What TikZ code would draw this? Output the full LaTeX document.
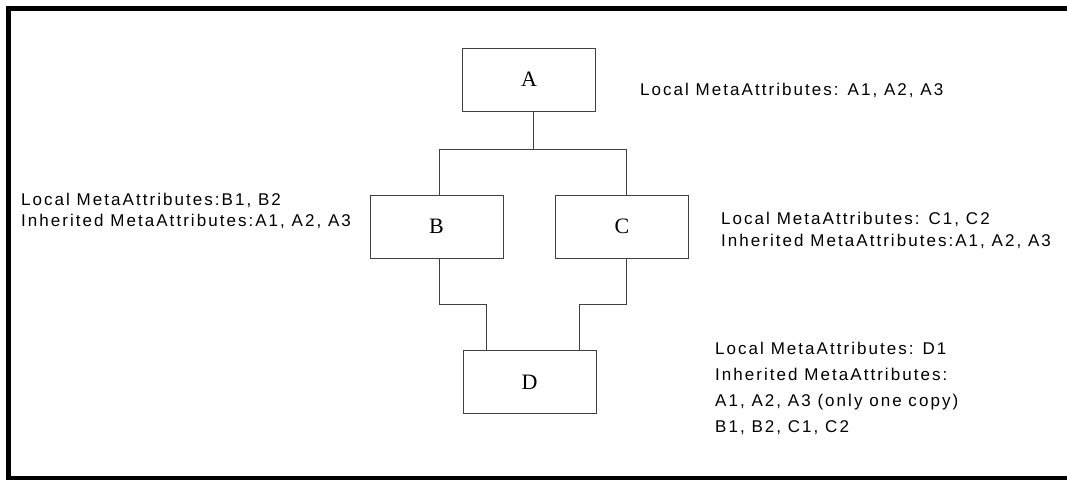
\documentclass[tikz,border=0pt]{standalone}
\usepackage{fontspec}
\newfontfamily\metafont[LetterSpace=12]{Liberation Sans}
\newfontfamily\boxfont{Liberation Serif}

\begin{document}
\begin{tikzpicture}[x=1pt,y=-1pt,
        cls/.style={draw=black!75, line width=1pt, minimum width=133pt,
            minimum height=63pt, inner sep=0pt,
            font=\boxfont\fontsize{22}{22}\selectfont},
        meta/.style={anchor=base west, align=left, inner sep=0pt,
            font=\metafont\fontsize{17}{#1}\selectfont},
        link/.style={draw=black!75, line width=1pt}]
        \useasboundingbox (0,0) rectangle (1067,479);
        \draw [line width=5pt] (8.5,8.5) rectangle (1075,478);

        \node [cls] (A) at (529,79.5) {A};
        \node [cls] (B) at (436.5,226.5) {B};
        \node [cls] (C) at (622,226.5) {C};
        \node [cls] (D) at (529.5,382) {D};

        \coordinate (busL) at (439,149);
        \coordinate (busR) at (626,149);
        \coordinate (joinB) at (486,304);
        \coordinate (joinC) at (579,304);

        \draw [link] ([xshift=4pt]A.south) -- ([xshift=4pt]A.south |- busL);
        \draw [link] (B.north -| busL) -- (busL) -- (busR) -- (C.north -| busR);
        \draw [link] (B.south -| busL) |- (joinB) -- (joinB |- D.north);
        \draw [link] (C.south -| busR) |- (joinC) -- (joinC |- D.north);

        % multi-line nodes sit on the baseline of their last line
        \node [meta=21] (metaA) at (640,95) {Local MetaAttributes: A1, A2, A3};
        \node [meta=21] (metaB) at (21,226)
            {Local MetaAttributes:B1, B2\\Inherited MetaAttributes:A1, A2, A3};
        \node [meta=22] (metaC) at (721,246)
            {Local MetaAttributes: C1, C2\\Inherited MetaAttributes:A1, A2, A3};
        \node [meta=26] (metaD) at (715,432)
            {Local MetaAttributes: D1\\Inherited MetaAttributes:\\
             A1, A2, A3 (only one copy)\\B1, B2, C1, C2};
    \end{tikzpicture}
\end{document}
